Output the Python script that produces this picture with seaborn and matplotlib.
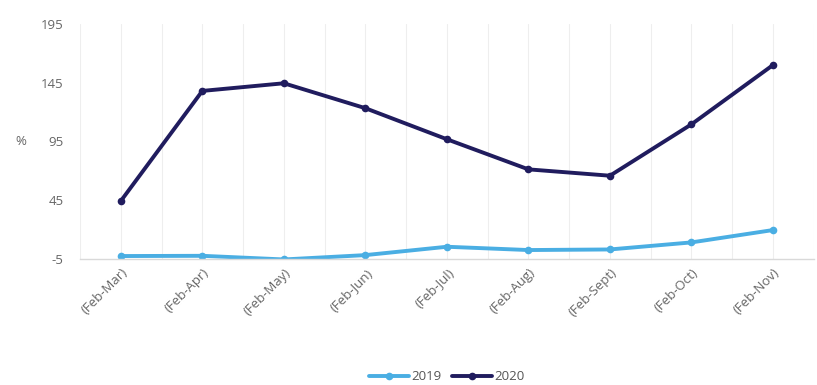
import matplotlib
matplotlib.use("Agg")
import matplotlib.pyplot as plt
import seaborn as sns
import pandas as pd

periods = ["(Feb-Mar)", "(Feb-Apr)", "(Feb-May)", "(Feb-Jun)", "(Feb-Jul)",
           "(Feb-Aug)", "(Feb-Sept)", "(Feb-Oct)", "(Feb-Nov)"]
values_2019 = [-2.4, -2.2, -5.3, -1.6, 5.5, 2.7, 3.2, 9.2, 19.7]
values_2020 = [44.4, 138, 144.5, 123.3, 96.9, 71.3, 65.9, 109.6, 160]
years = ["2019", "2020"]
y_ticks = [-5, 45, 95, 145, 195]

df = pd.DataFrame({
    "period": periods * 2,
    "pos": list(range(len(periods))) * 2,
    "value": values_2019 + values_2020,
    "year": [years[0]] * len(periods) + [years[1]] * len(periods),
})

sns.set_theme(style="white")
plt.rcParams["font.family"] = ["Open Sans", "DejaVu Sans"]

fig = plt.figure(figsize=(8.17, 3.85), dpi=100)
ax = fig.add_axes([0.098, 0.327, 0.898, 0.611])

palette = {"2019": "#4aaee3", "2020": "#201c5e"}
sns.lineplot(data=df, x="pos", y="value", hue="year", palette=palette,
             marker="o", markersize=5.5, markeredgewidth=0, linewidth=2.8,
             ax=ax, legend=True)

ax.set_xlim(-0.5, len(periods) - 0.5)
ax.set_ylim(-5, 195)
ax.set_yticks(y_ticks)
ax.set_yticklabels([str(t) for t in y_ticks], color="#666666", fontsize=9.5)
ax.set_xticks(range(len(periods)))
ax.set_xticklabels(periods, rotation=45, ha="right", rotation_mode="anchor",
                   color="#666666", fontsize=9.5)
ax.tick_params(axis="y", length=0, pad=12)
ax.tick_params(axis="x", length=0, pad=5)

# faint vertical grid at categories and category boundaries
for x in [i * 0.5 - 0.5 for i in range(2 * len(periods) + 1)]:
    ax.axvline(x, color="#eeeeee", linewidth=0.8, zorder=0)

for side in ["top", "right", "left"]:
    ax.spines[side].set_visible(False)
ax.spines["bottom"].set_color("#d9d9d9")
ax.spines["bottom"].set_linewidth(1)

ax.set_xlabel("")
ax.set_ylabel("%", rotation=0, color="#666666", fontsize=9.5, labelpad=14, va="center")

handles, labels = ax.get_legend_handles_labels()
ax.legend(handles, labels, loc="center", bbox_to_anchor=(0.5, -0.5),
          ncol=2, frameon=False, fontsize=9.5, handlelength=3,
          columnspacing=0.8, handletextpad=0.2, labelcolor="#555555")

fig.savefig("out.png", dpi=100)
